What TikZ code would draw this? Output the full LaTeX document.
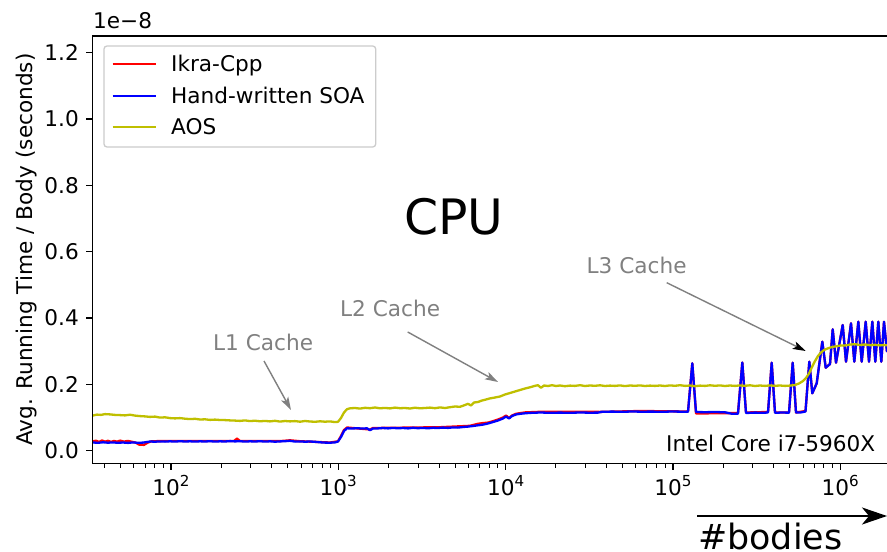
\documentclass[tikz,border=0pt]{standalone}
\usepackage{fontspec}
\setmainfont{DejaVu Sans}
\usetikzlibrary{arrows.meta}
\definecolor{mplred}{rgb}{1,0,0}
\definecolor{mplblue}{rgb}{0,0,1}
\definecolor{mplyellow}{rgb}{0.75,0.75,0}
\definecolor{mplgray}{rgb}{0.5,0.5,0.5}
\definecolor{legedge}{rgb}{0.8,0.8,0.8}
\tikzset{
  txt/.style={inner sep=0pt},
  spine/.style={line width=1.4bp, line cap=rect},
  majtick/.style={line width=1.3bp},
  mintick/.style={line width=1bp},
  series/.style={line width=2.3bp, line join=round},
  annot/.style={draw=mplgray, line width=1.4bp, -{Stealth[length=13bp,width=8bp,inset=3bp]}},
}
\begin{document}
\begin{tikzpicture}[x=1bp,y=-1bp,font=\fontsize{21.7}{25}\selectfont]
\useasboundingbox (0,0) rectangle (887,552);
\fill[white] (0,0) rectangle (887,552);

% data
\begin{scope}
\clip (92.7,36) rectangle (887,463.3);
\draw[series, mplred] plot coordinates {(93,441.3) (96,440.7) (99,441.9) (102,440.5) (105,441.6) (108,440.8) (111,441.9) (114,440.9) (117,441.7) (120,440.6) (124,441.6) (128,440.9) (132,441.8) (136,442.8) (139,444.6) (144,444.9) (148,442.5) (152,441.2) (170,441) (200,441) (234,441) (237,438.6) (240,441) (280,441.1) (290,440.3) (300,441.2) (330,442.5) (338,441.3) (341,436) (344,430) (347,427.5) (370,429.5) (373,428) (440,427.2) (470,425.8) (478,423.8) (482,423.2) (488,422.6) (493,421.2) (498,419.5) (503,417.5) (506,415.5) (509,418) (512,415.5) (516,413.8) (525,412.4) (540,411.8) (600,411.9) (640,411) (688,411.5) (692.3,363.3) (696,413.5) (738,413) (742.3,362.5) (746,412.5) (768,412) (771.7,362.7) (775,412.5) (789,412.5) (792.7,362.7) (796,412.5) (805.5,411) (809.3,361.7) (812.3,393.3) (816.7,383.3) (822.3,341.7) (825.7,367.7) (830,364) (832.7,329.3) (836,362.7) (842.7,325) (846,361.7) (851,323.3) (854.3,361.7) (858.3,321.7) (861.7,361.7) (865.7,321.7) (869,361.7) (872.3,321.7) (875.3,361.7) (878.3,321.7) (881.3,361.7) (884,321.7) (887,352)};
\draw[series, mplblue] plot coordinates {(93,442.5) (98,442.8) (103,442.3) (108,442.7) (113,442.4) (118,442.8) (123,442.5) (128,442.9) (133,442.4) (138,442.8) (143,442.6) (147,442) (150,441.5) (155,441.7) (160,441.4) (165,441.6) (170,441.3) (175,441.6) (180,441.2) (185,441.5) (190,441.3) (195,441.6) (200,441.3) (205,441.5) (210,441.2) (215,441.6) (220,441.3) (225,441.5) (230,441.1) (235,441.4) (240,441.2) (245,441.6) (250,441.3) (255,441.5) (260,441.2) (265,441.6) (270,441.3) (275,441.7) (280,441.4) (285,441.2) (290,440.8) (295,441.6) (300,441.4) (305,441.7) (310,441.5) (315,441.8) (320,442.3) (325,442.6) (330,442.7) (335,442.4) (338,441.5) (341,437) (344,431) (347,428.3) (352,428.5) (357,428.2) (362,428.6) (367,428.3) (370,430.2) (373,428.5) (378,428.4) (383,428) (388,428.4) (393,427.9) (398,428.3) (403,428) (408,428.4) (413,427.8) (418,428.2) (423,427.9) (428,428.3) (433,427.8) (438,428) (443,427.6) (448,427.9) (453,427.4) (458,427.6) (463,427) (468,426.6) (473,426) (478,425.3) (483,424.6) (488,423.5) (493,422) (498,420.5) (503,418.5) (506,416.5) (509,418.5) (512,416) (516,414.5) (520,413.8) (525,413.3) (530,412.9) (535,412.7) (540,412.5) (550,412.8) (560,412.6) (570,412.8) (580,412.5) (590,412.7) (598,412.6) (602,411.8) (612,411.6) (622,411.8) (632,411.5) (642,411.7) (652,411.6) (662,411.8) (672,411.5) (682,411.7) (688,411.8) (692.3,363.3) (696,412) (705,412.2) (715,412) (725,412.3) (732,413.8) (738,413.6) (742.3,362.5) (746,413) (755,412.6) (763,412.8) (768,412.5) (771.7,362.7) (775,412.8) (782,412.5) (789,412.7) (792.7,362.7) (796,412.5) (801,412.4) (805.5,411.5) (809.3,361.7) (812.3,393.3) (816.7,383.3) (822.3,341.7) (825.7,367.7) (830,364) (832.7,329.3) (836,362.7) (842.7,325) (846,361.7) (851,323.3) (854.3,361.7) (858.3,321.7) (861.7,361.7) (865.7,321.7) (869,361.7) (872.3,321.7) (875.3,361.7) (878.3,321.7) (881.3,361.7) (884,321.7) (887,352)};
\draw[series, mplyellow] plot coordinates {(93,415.5) (97,414.6) (101,414.9) (105,414.1) (110,414.4) (115,414.9) (120,415.1) (125,415.4) (130,414.7) (135,415.6) (140,416.1) (145,416.4) (150,416.9) (155,416.6) (160,417.6) (165,417.3) (170,418.1) (175,418.4) (180,418.1) (185,418.7) (190,419.1) (195,418.8) (200,419.5) (205,419.3) (210,419.9) (215,419.6) (220,420) (225,420.1) (230,420.4) (235,420.6) (240,420.9) (245,420.4) (250,421.1) (255,420.7) (260,421.3) (265,420.9) (270,421.4) (275,420.8) (280,421.6) (285,421) (290,421.4) (295,421.1) (300,421.7) (305,421) (310,421.5) (315,421.8) (320,421.3) (325,421.7) (330,421.4) (335,422.1) (338,421.8) (341,418) (344,412.5) (347,409.2) (350,408.3) (355,408) (360,408.6) (365,407.8) (370,408.2) (375,407.5) (380,408.3) (385,407.9) (390,408.4) (395,407.6) (400,408.2) (405,408) (410,408.5) (415,407.7) (420,408.3) (425,408) (430,407.6) (435,408.2) (440,407.4) (445,408) (450,407.2) (455,406.5) (460,406.8) (465,405) (468,403.8) (471,405.5) (474,402.5) (478,402) (482,400.5) (486,399.5) (490,398.4) (495,397.5) (500,396.5) (505,394.5) (510,393) (515,391.5) (520,390) (525,388.5) (530,387.3) (535,385.8) (538,385.2) (541,387.8) (544,385.5) (548,386) (552,385.2) (556,386) (560,385.5) (565,386.2) (570,385.6) (575,385.9) (580,385.2) (585,386) (590,385.5) (595,385.8) (600,385.3) (605,386) (610,385.6) (615,385.9) (620,385.4) (625,386.1) (630,385.5) (635,385.8) (640,385.4) (645,386) (650,385.6) (655,385.9) (660,385.5) (665,386) (670,385.4) (675,385.8) (680,385.2) (685,385.9) (690,385.5) (695,386.2) (700,385.6) (705,385.9) (710,385.3) (715,385.8) (720,385.4) (725,386) (730,385.5) (735,385.9) (740,385.4) (745,385.8) (750,385.3) (755,386) (760,385.5) (765,385.9) (770,385.4) (775,385.8) (780,385.5) (785,385.9) (790,385.6) (795,385) (799,383.5) (803,381) (806,378) (809,373.5) (812,367) (815,361) (818,356) (821,352.5) (824,350) (828,348.3) (832,347) (836,346.3) (840,345.6) (845,345.5) (850,344.6) (855,344.2) (860,345) (865,344.5) (870,345.2) (875,344.8) (880,345.4) (885,345) (887,345.3)};
\end{scope}

% spines
\draw[spine] (92.7,463.3) -- (92.7,36) -- (887,36);
\draw[spine] (92.7,463.3) -- (887,463.3);

% y ticks
\foreach \v/\lab in {0/0.0,0.2/0.2,0.4/0.4,0.6/0.6,0.8/0.8,1.0/1.0,1.2/1.2} {
  \pgfmathsetmacro\yy{450.7-\v*331.7}
  \draw[majtick] (86,\yy) -- (92.7,\yy);
  \node[txt, anchor=base east] (ytick\lab) at (79,\yy+7.9) {\lab};
}

% x minor ticks
\begin{scope}
\clip (93.5,450) rectangle (887,480);
\foreach \d in {1,...,6} {
  \foreach \k in {2,...,9} {
    \pgfmathsetmacro\xx{171+(\d-2+log10(\k))*167.3}
    \draw[mintick] (\xx,463.3) -- (\xx,467.8);
  }
}
\end{scope}
% x major ticks
\foreach \e/\xx in {2/171,3/338.3,4/505.6,5/672.9,6/840.2} {
  \draw[majtick] (\xx,463.3) -- (\xx,470.3);
  \node[txt, anchor=base] (xtick\e) at (\xx,495.5) {10\raisebox{9bp}{\fontsize{15.2}{16}\selectfont\e}};
}

% offset label
\node[txt, anchor=base west] (offset) at (93,28.3) {1e−8};

% axis label
\node[txt, rotate=90, anchor=base] (ylabel) at (32.3,249.5) {Avg. Running Time / Body (seconds)};

% title
\node[txt, anchor=base, font=\fontsize{49}{52}\selectfont] (cpu) at (454,235) {CPU};

% cpu name
\node[txt, anchor=base west] (cpuname) at (666,451) {Intel Core i7-5960X};

% annotations
\node[txt, anchor=base west, text=mplgray] (l1) at (213,350.7) {L1 Cache};
\node[txt, anchor=base west, text=mplgray] (l2) at (340,317) {L2 Cache};
\node[txt, anchor=base west, text=mplgray] (l3) at (586.5,273.3) {L3 Cache};
\coordinate (l1s) at (264,361);
\coordinate (l1e) at (291,410);
\coordinate (l2s) at (407.7,332);
\coordinate (l2e) at (498,382);
\coordinate (l3s) at (666.7,282.7);
\coordinate (l3e) at (805.7,351);
\draw[annot] (l1s) -- (l1e);
\draw[annot] (l2s) -- (l2e);
\draw[draw=mplgray, line width=1.4bp, -{Stealth[length=13bp,width=8bp,inset=3bp,color=black]}] (l3s) -- (l3e);

% legend
\draw[legedge, fill=white, fill opacity=0.8, line width=1.3bp, rounded corners=3bp] (104,46) rectangle (375.7,147);
\draw[series, mplred] (112.7,64) -- (156,64);
\draw[series, mplblue] (112.7,96) -- (156,96);
\draw[series, mplyellow] (112.7,126.7) -- (156,126.7);
\node[txt, anchor=base west] (leg1) at (171,71.5) {Ikra-Cpp};
\node[txt, anchor=base west] (leg2) at (171,103.5) {Hand-written SOA};
\node[txt, anchor=base west] (leg3) at (171,134.2) {AOS};

% #bodies arrow
\coordinate (bstart) at (697,516);
\coordinate (bend) at (887,516);
\draw[line width=2bp, -{Stealth[length=25bp,width=17bp,inset=7bp]}] (bstart) -- (bend);
\node[txt, anchor=base west, font=\fontsize{35}{40}\selectfont] (bodies) at (698,549) {\#bodies};
\end{tikzpicture}
\end{document}
